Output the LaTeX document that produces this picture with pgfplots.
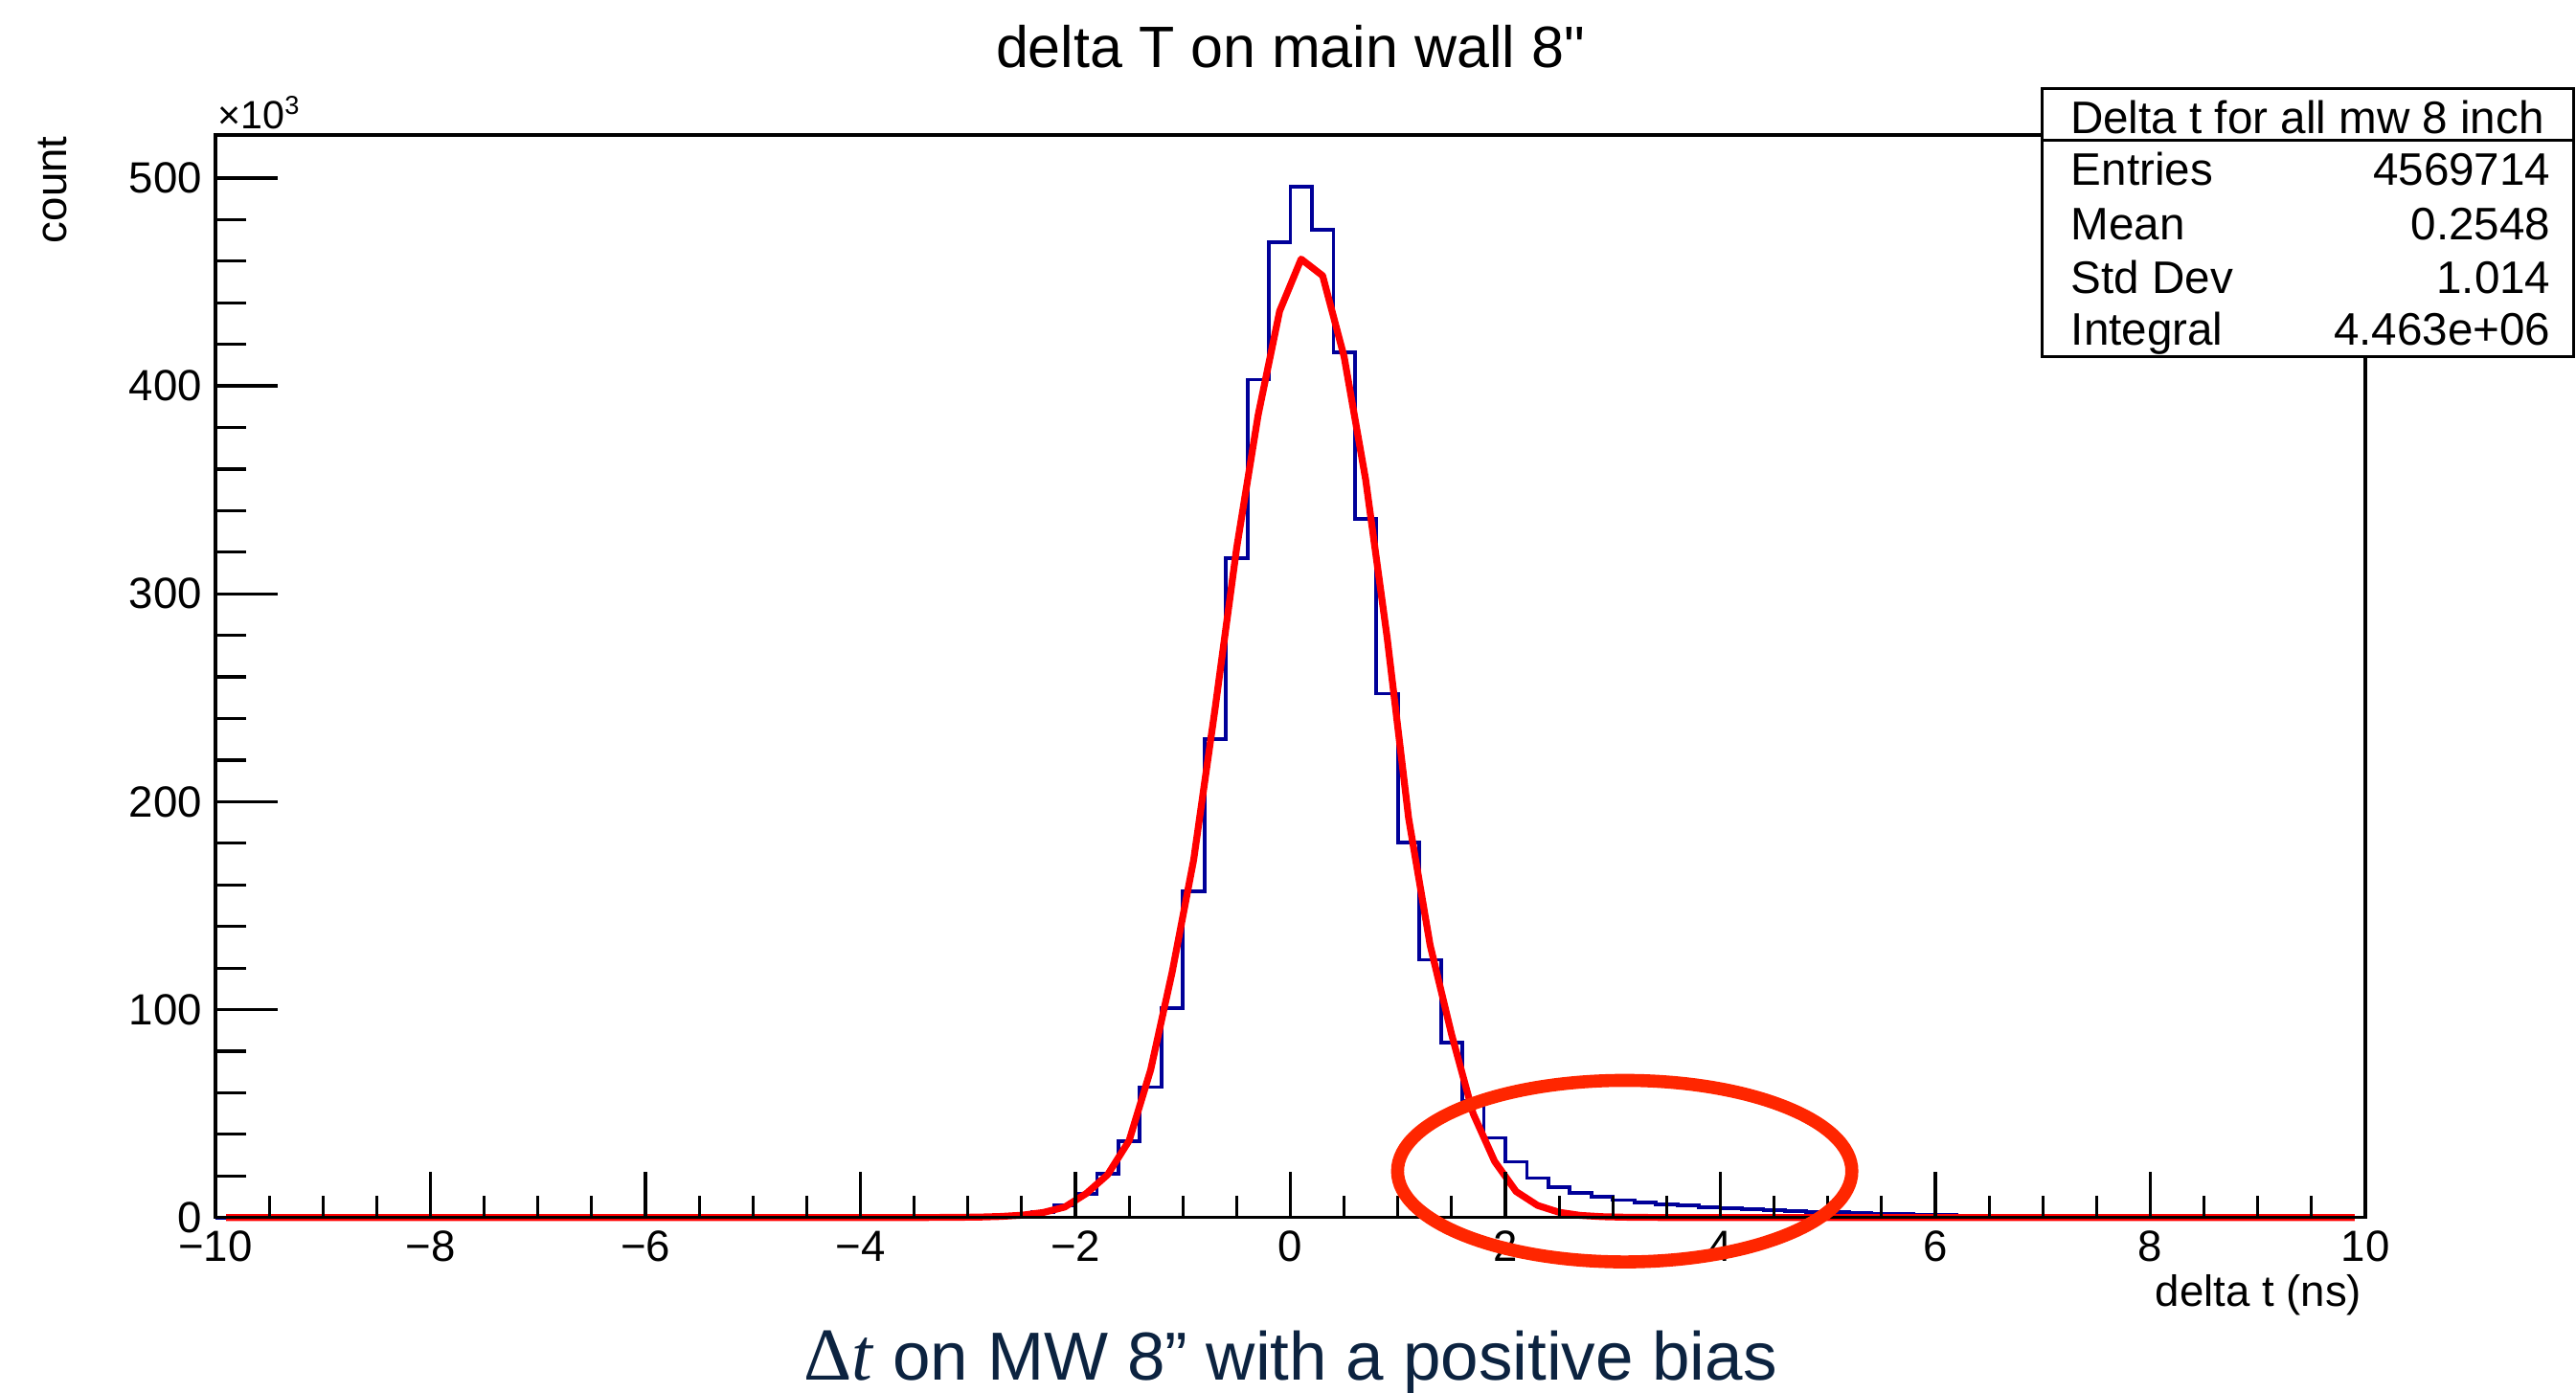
\documentclass[border=0pt]{standalone}
\usepackage{fontspec}
\setmainfont{Liberation Sans}
\newfontfamily\plainsans{Liberation Sans}
\newfontfamily\seriffont{Liberation Serif}
\usepackage{pgfplots}
\pgfplotsset{compat=1.18}
\usepackage{pgfplotstable}
\definecolor{histblue}{RGB}{0,0,153}
\definecolor{ellred}{RGB}{255,38,0}
\definecolor{capnavy}{RGB}{12,35,64}

% histogram: bin left edge (ns), count in thousands
\pgfplotstableread{
x y
-10.0 0
-9.8 0
-9.6 0
-9.4 0
-9.2 0
-9.0 0
-8.8 0
-8.6 0
-8.4 0
-8.2 0
-8.0 0
-7.8 0
-7.6 0
-7.4 0
-7.2 0
-7.0 0
-6.8 0
-6.6 0
-6.4 0
-6.2 0
-6.0 0
-5.8 0
-5.6 0
-5.4 0
-5.2 0
-5.0 0
-4.8 0
-4.6 0
-4.4 0.01
-4.2 0.01
-4.0 0.02
-3.8 0.03
-3.6 0.05
-3.4 0.08
-3.2 0.13
-3.0 0.25
-2.8 0.6
-2.6 1.4
-2.4 2.7
-2.2 5.8
-2.0 11.3
-1.8 21.0
-1.6 36.6
-1.4 62.7
-1.2 100.7
-1.0 157
-0.8 230
-0.6 317
-0.4 403
-0.2 469
0.0 496
0.2 475
0.4 416
0.6 336
0.8 252
1.0 180.5
1.2 124
1.4 84
1.6 56
1.8 38.3
2.0 26.8
2.2 19.0
2.4 14.7
2.6 12.0
2.8 10.0
3.0 8.4
3.2 7.4
3.4 6.4
3.6 5.7
3.8 5.1
4.0 4.6
4.2 4.1
4.4 3.6
4.6 3.2
4.8 2.8
5.0 2.5
5.2 2.2
5.4 1.9
5.6 1.6
5.8 1.4
6.0 1.2
6.2 1.0
6.4 0.85
6.6 0.7
6.8 0.6
7.0 0.5
7.2 0.42
7.4 0.36
7.6 0.3
7.8 0.26
8.0 0.22
8.2 0.19
8.4 0.16
8.6 0.14
8.8 0.12
9.0 0.1
9.2 0.09
9.4 0.08
9.6 0.07
9.8 0.06
10.0 0.06
}\histdata

% fit curve evaluated at bin centres (thousands)
\pgfplotstableread{
x y
-9.9 0
-7.9 0
-5.9 0
-3.9 0
-3.7 0
-3.5 0
-3.3 0.03
-3.1 0.1
-2.9 0.2
-2.7 0.5
-2.5 1.1
-2.3 2.4
-2.1 5.0
-1.9 11.5
-1.7 20.6
-1.5 37
-1.3 71
-1.1 118
-0.9 172
-0.7 245
-0.5 322
-0.3 386
-0.1 436
0.1 461
0.3 453
0.5 414
0.7 355
0.9 279
1.1 192
1.3 131
1.5 88
1.7 50
1.9 27
2.1 12.5
2.3 5.8
2.5 2.5
2.7 1.0
2.9 0.4
3.1 0.15
3.3 0.05
3.5 0
3.7 0
5.9 0
7.9 0
9.9 0
}\fitdata

\begin{document}
\begin{tikzpicture}
\useasboundingbox (-56.25pt,-45.825pt) rectangle (616.25pt,317.925pt);
\begin{axis}[
  at={(0pt,0pt)}, anchor=south west,
  scale only axis, width=561.25pt, height=282.675pt,
  xmin=-10, xmax=10, ymin=0, ymax=520.7,
  axis on top, clip=false,
  axis line style={line width=0.9pt},
  xtick={-10,-8,...,10},
  xticklabels={−10,−8,−6,−4,−2,0,2,4,6,8,10},
  ytick={0,100,...,500},
  minor x tick num=3, minor y tick num=4,
  xtick pos=left, ytick pos=left,
  tick style={black, line width=0.8pt},
  xtick style={/pgfplots/major tick length=12pt, /pgfplots/minor tick length=5.75pt},
  ytick style={/pgfplots/major tick length=16.25pt, /pgfplots/minor tick length=8pt},
  tick label style={font=\fontsize{11.4}{13}\selectfont},
  /pgf/number format/assume math mode=true,
  scaled y ticks=false,
]
\addplot[const plot, histblue, line width=0.95pt] table[x=x, y=y] {\histdata};
\addplot[red, line width=1.8pt, line join=round] table[x=x, y=y] {\fitdata};
\coordinate (ec) at (axis cs:3.11,22.3);
\end{axis}

% stats box
\draw[line width=0.75pt, fill=white] (476.75pt,224.7pt) rectangle (615.5pt,294.9pt);
\draw[line width=0.75pt] (476.75pt,281.25pt) -- (615.5pt,281.25pt);
\begin{scope}[every node/.style={inner sep=0pt, font=\fontsize{11.9}{14}\selectfont}]
\node[anchor=base] at (546.1pt,283.1pt) {Delta t for all mw 8 inch};
\node[anchor=base west] at (484.25pt,269.6pt) {Entries};
\node[anchor=base east] at (609.8pt,269.6pt) {4569714};
\node[anchor=base west] at (484.25pt,255.4pt) {Mean};
\node[anchor=base east] at (609.8pt,255.4pt) {0.2548};
\node[anchor=base west] at (484.25pt,241.25pt) {Std Dev};
\node[anchor=base east] at (609.8pt,241.25pt) {1.014};
\node[anchor=base west] at (484.25pt,227.7pt) {Integral};
\node[anchor=base east] at (609.8pt,227.7pt) {4.463e+06};
\end{scope}

% titles and labels
\node[anchor=base, inner sep=0pt, font=\fontsize{15.25}{18}\selectfont] at (280.625pt,300.4pt) {delta T on main wall 8{\plainsans "}};
\node[anchor=base west, inner sep=0pt, font=\fontsize{10.3}{12}\selectfont] at (0.4pt,284.2pt) {×10\raisebox{3.75pt}{\fontsize{6.8}{7}\selectfont 3}};
\node[anchor=base east, inner sep=0pt, font=\fontsize{11.4}{13}\selectfont] at (560.5pt,-23.1pt) {delta t (ns)};
\node[rotate=90, anchor=base east, inner sep=0pt, font=\fontsize{11.4}{13}\selectfont] at (-38.75pt,282.5pt) {count};

% annotation
\draw[ellred, line width=3.4pt] (ec) ellipse [x radius=59.3pt, y radius=23.7pt];
\node[anchor=base, inner sep=0pt, text=capnavy, font=\fontsize{17.75}{20}\selectfont] at (280.65pt,-42.45pt) {{\seriffont\fontsize{19.5}{20}\selectfont Δ\textit{t}} on MW 8” with a positive bias};
\end{tikzpicture}
\end{document}
